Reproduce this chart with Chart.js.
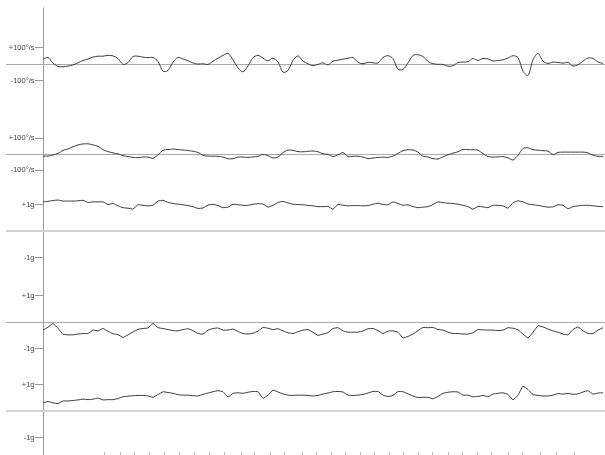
<!DOCTYPE html>
<html lang="en">
<head>
    <meta charset="UTF-8">
    <title>Motion sensors</title>
    <style>
        html, body { margin: 0; padding: 0; background: #fff; overflow: hidden; }
        #wrap { width: 605px; height: 472px; }
    </style>
</head>
<body>
    <div id="wrap"><canvas id="sensorChart" width="605" height="472"></canvas></div>

    <script src="https://cdn.jsdelivr.net/npm/chart.js@4.4.1/dist/chart.umd.min.js"></script>
    <script>
        // rotation rate traces, deg/s
        var gyro1 = [32, 42, 8, -12, -14, -10, -3, 10, 24, 33,
            45, 50, 50, 55, 52, 36, 0, 12, 48, 50,
            44, 41, 42, 18, -41, -36, 14, 42, 33, 22,
            9, 2, 4, 0, 20, 38, 55, 67, 28, -21,
            -45, -9, 41, 55, 38, 22, 38, 15, -47, -36,
            24, 52, 20, 4, -8, 0, 10, -3, 20, 26,
            32, 38, 42, 13, 4, 13, 10, 9, 42, 53,
            35, -30, -30, 9, 55, 59, 48, 18, 4, 1,
            0, -11, -8, 12, 14, 17, 36, 24, 36, 33,
            21, 24, 28, 39, 53, 42, -41, -67, 28, 67,
            20, 6, 14, 12, 8, 12, -10, -2, 20, 39,
            36, 15, 6];
        var gyro2 = [-11, -11, -4, 6, 25, 34, 47, 59, 65, 66,
            59, 50, 29, 17, 9, 3, -8, -14, -19, -21,
            -17, -17, -25, -3, 25, 30, 33, 30, 27, 24,
            19, 12, -6, -11, -12, -12, -17, -28, -27, -17,
            -17, -19, -16, -12, 0, -9, -23, -17, 11, 27,
            25, 17, 16, 19, 21, 16, 4, 0, -14, -3,
            11, -14, -12, -12, -17, -27, -23, -19, -18, -19,
            -11, 6, 23, 29, 27, 14, -12, -16, -27, -29,
            -16, -3, 8, 16, 31, 29, 29, 26, 4, -14,
            -17, -16, -14, -22, -36, -6, 37, 41, 29, 26,
            23, 20, -2, 12, 14, 14, 14, 14, 14, 9,
            -6, -12, -14];

        // acceleration traces, g
        var accel1 = [1.11, 1.13, 1.16, 1.18, 1.14, 1.14, 1.14, 1.15, 1.17, 1.09,
            1.11, 1.11, 1.11, 1.01, 1.05, 0.96, 0.89, 0.87, 0.84, 1.00,
            0.98, 0.96, 0.98, 1.14, 1.17, 1.09, 1.05, 1.02, 1.00, 0.97,
            0.93, 0.86, 0.88, 0.99, 1.02, 0.97, 0.89, 0.91, 1.02, 1.00,
            0.98, 0.98, 1.02, 1.04, 1.03, 0.91, 0.98, 1.09, 1.13, 1.07,
            1.02, 1.01, 1.00, 0.98, 0.96, 0.93, 0.93, 0.94, 0.83, 1.02,
            0.98, 0.96, 0.97, 0.97, 0.96, 0.97, 1.02, 1.06, 1.01, 1.00,
            1.11, 1.05, 0.98, 1.00, 0.93, 0.89, 0.91, 0.93, 1.01, 1.11,
            1.08, 1.06, 1.05, 1.02, 0.98, 0.93, 0.83, 0.94, 0.92, 0.89,
            0.98, 0.98, 0.96, 0.87, 1.08, 1.15, 1.11, 1.03, 1.00, 0.98,
            0.94, 0.91, 0.92, 1.00, 0.98, 0.85, 0.93, 0.96, 0.98, 0.98,
            0.96, 0.94, 0.93];
        var accel2 = [-0.30, -0.19, -0.05, -0.23, -0.46, -0.48, -0.48, -0.45, -0.43, -0.43,
            -0.30, -0.33, -0.24, -0.35, -0.44, -0.47, -0.58, -0.48, -0.37, -0.27,
            -0.24, -0.22, -0.05, -0.21, -0.24, -0.28, -0.32, -0.33, -0.28, -0.25,
            -0.32, -0.43, -0.45, -0.30, -0.24, -0.22, -0.30, -0.30, -0.26, -0.35,
            -0.43, -0.45, -0.42, -0.34, -0.20, -0.23, -0.28, -0.25, -0.33, -0.40,
            -0.43, -0.36, -0.30, -0.28, -0.38, -0.50, -0.45, -0.40, -0.24, -0.21,
            -0.33, -0.38, -0.38, -0.38, -0.33, -0.25, -0.24, -0.32, -0.43, -0.34,
            -0.33, -0.38, -0.60, -0.54, -0.45, -0.32, -0.20, -0.21, -0.20, -0.28,
            -0.30, -0.38, -0.43, -0.43, -0.45, -0.45, -0.40, -0.28, -0.29, -0.30,
            -0.30, -0.32, -0.30, -0.21, -0.23, -0.29, -0.45, -0.60, -0.38, -0.14,
            -0.18, -0.26, -0.33, -0.38, -0.45, -0.48, -0.28, -0.18, -0.33, -0.43,
            -0.43, -0.30, -0.21];
        var accel3 = [0.31, 0.36, 0.31, 0.28, 0.38, 0.38, 0.40, 0.42, 0.45, 0.43,
            0.45, 0.49, 0.42, 0.43, 0.43, 0.47, 0.54, 0.56, 0.58, 0.59,
            0.59, 0.57, 0.52, 0.62, 0.73, 0.70, 0.67, 0.62, 0.60, 0.60,
            0.58, 0.57, 0.63, 0.68, 0.73, 0.77, 0.73, 0.53, 0.67, 0.69,
            0.67, 0.71, 0.74, 0.73, 0.48, 0.60, 0.79, 0.72, 0.65, 0.60,
            0.59, 0.60, 0.60, 0.59, 0.57, 0.59, 0.64, 0.68, 0.73, 0.74,
            0.72, 0.60, 0.59, 0.60, 0.63, 0.68, 0.74, 0.74, 0.60, 0.55,
            0.59, 0.74, 0.73, 0.65, 0.57, 0.51, 0.52, 0.52, 0.46, 0.55,
            0.67, 0.71, 0.73, 0.72, 0.60, 0.60, 0.54, 0.55, 0.59, 0.54,
            0.64, 0.67, 0.69, 0.63, 0.42, 0.60, 0.94, 0.81, 0.62, 0.59,
            0.57, 0.57, 0.60, 0.66, 0.64, 0.67, 0.63, 0.65, 0.72, 0.77,
            0.64, 0.68, 0.69];

        var gyroTickValues = [-100, 0, 100];
        var gyroTickLabels = ['-100°/s', '', '+100°/s'];
        var accelTickValues = [-1, 0, 1];
        var accelTickLabels = ['-1g', '', '+1g'];

        // sample positions of the small marks along the bottom
        var timeTicks = [12.4, 15.4, 18.4, 21.4, 24.4, 27.4, 30.4, 33.4, 36.4, 39.7,
            42.3, 45.5, 48.3, 51.9, 54.7, 57.7, 60.5, 63.5, 66.3, 69.3,
            72.1, 75.1, 77.9, 81.1, 83.8, 86.9, 89.7, 93.1, 95.9, 99.4,
            102.7, 106.2];

        var samples = gyro1.map(function (v, i) { return i; });

        // every channel gets its own full height axis; min/max put its zero line in its band
        var AREA_TOP = 7, AREA_BOTTOM = 452, CANVAS_H = 472;
        var LABEL_X = -1.7;   // x value where the tick labels end (just left of the spine)
        var labelFont = { family: '"Liberation Sans", Arial, sans-serif', size: 7.5 };

        function bandAxis(zeroPx, pxPerUnit, tickValues, tickLabels, zeroColor, zeroWidth) {
            return {
                type: 'linear',
                position: { x: LABEL_X },
                min: -(AREA_BOTTOM - zeroPx) / pxPerUnit,
                max: (zeroPx - AREA_TOP) / pxPerUnit,
                afterBuildTicks: function (scale) {
                    scale.ticks = tickValues.map(function (v) { return { value: v }; });
                },
                ticks: {
                    autoSkip: false,
                    color: '#444',
                    font: labelFont,
                    callback: function (value, index) { return tickLabels[index]; }
                },
                grid: {
                    // negative length: tick marks run rightwards from the labels to the spine
                    tickLength: -8.5,
                    lineWidth: function (ctx) { return ctx.tick && ctx.tick.value === 0 ? zeroWidth : 1; },
                    color: function (ctx) {
                        return ctx.tick && ctx.tick.value === 0 ? zeroColor : 'rgba(0,0,0,0)';
                    },
                    tickColor: function (ctx) {
                        return ctx.tick && ctx.tick.value === 0 ? 'rgba(0,0,0,0)' : '#999';
                    },
                    tickWidth: 1
                },
                border: { display: false }
            };
        }

        function trace(data, axisId, smooth) {
            return {
                data: data,
                yAxisID: axisId,
                borderColor: '#3a3a3a',
                borderWidth: 1,
                pointRadius: 0,
                tension: smooth,
                fill: false
            };
        }

        var ctx = document.getElementById('sensorChart').getContext('2d');
        var sensorChart = new Chart(ctx, {
            type: 'line',
            data: {
                labels: samples,
                datasets: [
                    trace(gyro1, 'g1', 0.3),
                    trace(gyro2, 'g2', 0.2),
                    trace(accel1, 'a1', 0.1),
                    trace(accel2, 'a2', 0.1),
                    trace(accel3, 'a3', 0.1)
                ]
            },
            options: {
                responsive: false,
                animation: false,
                layout: { padding: { top: AREA_TOP, left: 6, right: 0, bottom: 0 } },
                plugins: { legend: { display: false }, tooltip: { enabled: false } },
                scales: {
                    x: {
                        type: 'linear',
                        min: -7.4,
                        max: 112.4,
                        afterBuildTicks: function (scale) {
                            // tick 0 is the vertical spine, the rest are the bottom marks
                            scale.ticks = [{ value: 0 }].concat(timeTicks.map(function (v) { return { value: v }; }));
                        },
                        afterFit: function (scale) { scale.height = CANVAS_H - AREA_BOTTOM; },
                        ticks: { display: false },
                        grid: {
                            drawOnChartArea: true,
                            drawTicks: true,
                            tickLength: 6,
                            color: function (ctx) { return ctx.tick && ctx.tick.value === 0 ? '#999' : 'rgba(0,0,0,0)'; },
                            tickColor: function (ctx) { return ctx.tick && ctx.tick.value === 0 ? '#999' : '#bbb'; }
                        },
                        border: { display: false }
                    },
                    g1: bandAxis(64, 0.165, gyroTickValues, gyroTickLabels, '#aaa', 1),
                    g2: bandAxis(154, 0.16, gyroTickValues, gyroTickLabels, '#aaa', 1),
                    a1: bandAxis(231, 26.5, accelTickValues, accelTickLabels, '#d2d2d2', 2),
                    a2: bandAxis(322, 26.5, accelTickValues, accelTickLabels, '#aaa', 1),
                    a3: bandAxis(411, 26.5, accelTickValues, accelTickLabels, '#d2d2d2', 2)
                }
            }
        });
    </script>
</body>
</html>
